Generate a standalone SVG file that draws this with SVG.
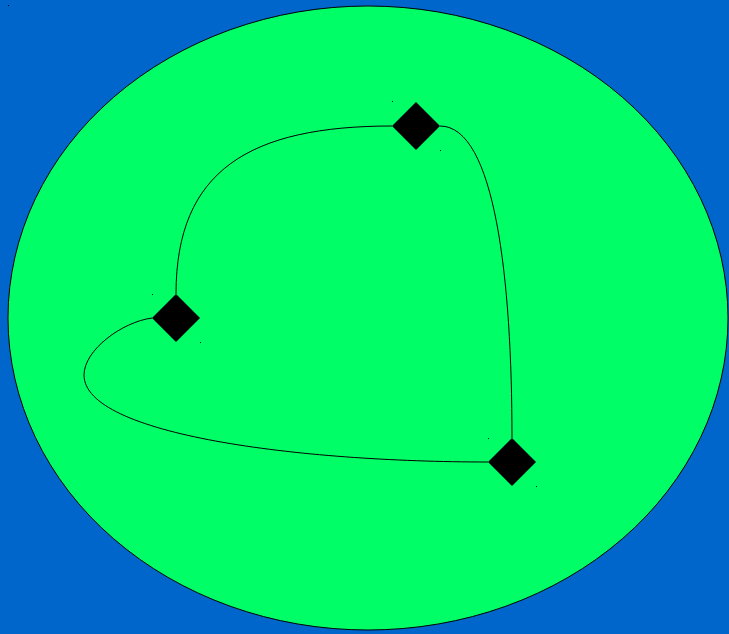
<svg xmlns="http://www.w3.org/2000/svg" width="729" height="634" viewBox="0 0 729 634">
<style>
.node{fill:#000;stroke:none}
.edge{fill:none;stroke:#000;stroke-width:1}
.dot{fill:#000}
</style>
<rect x="0" y="0" width="729" height="634" fill="#0066CC"/>
<rect class="dot" x="8" y="5" width="1" height="1"/>
<g id="graph">
<ellipse cx="368" cy="318" rx="360" ry="312" fill="#00FF66" stroke="#000" stroke-width="1"/>
</g>
<g id="edges">
<path class="edge" d="M176,294 C176,170 250,126 392,126"/>
<path class="edge" d="M440,126 C495,126 512,280 512,438"/>
<path class="edge" d="M152,318 C122,322 84,350 84,375 C84,435 300,462 488,462"/>
</g>
<g id="n1">
<polygon class="node" points="416,102 440,126 416,150 392,126"/>
<rect class="dot" x="392" y="101" width="1" height="1"/>
<rect class="dot" x="440" y="150" width="1" height="1"/>
</g>
<g id="n2">
<polygon class="node" points="176,294 200,318 176,342 152,318"/>
<rect class="dot" x="152" y="294" width="1" height="1"/>
<rect class="dot" x="200" y="342" width="1" height="1"/>
</g>
<g id="n3">
<polygon class="node" points="512,438 536,462 512,486 488,462"/>
<rect class="dot" x="488" y="438" width="1" height="1"/>
<rect class="dot" x="536" y="486" width="1" height="1"/>
</g>
</svg>
